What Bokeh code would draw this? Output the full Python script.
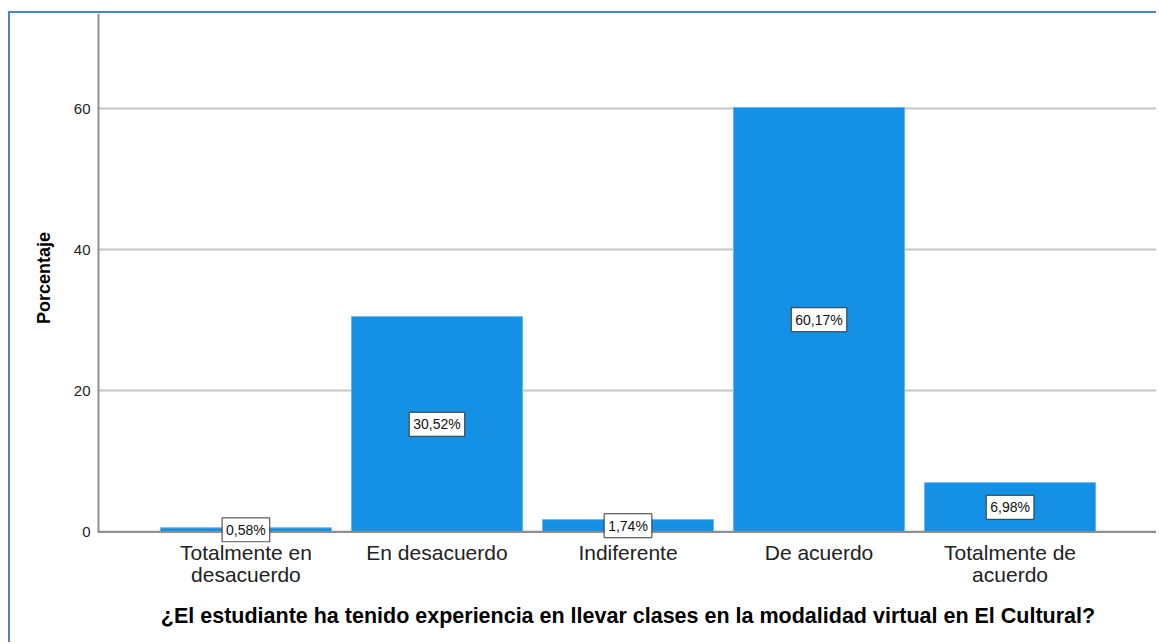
from bokeh.plotting import figure
from bokeh.models import ColumnDataSource, Label, FixedTicker, Range1d, Span
from bokeh.embed import file_html
from bokeh.resources import INLINE

categories = ["Totalmente en\ndesacuerdo", "En desacuerdo", "Indiferente",
              "De acuerdo", "Totalmente de\nacuerdo"]
percent = [0.58, 30.52, 1.74, 60.17, 6.98]
pct_labels = ["0,58%", "30,52%", "1,74%", "60,17%", "6,98%"]
y_ticks = [0, 20, 40, 60]
x_title = "¿El estudiante ha tenido experiencia en llevar clases en la modalidad virtual en El Cultural?"
y_title = "Porcentaje"

FONT = "Liberation Sans"
AXIS_COLOR = "#8f8f8f"
xs = list(range(len(categories)))
src = ColumnDataSource(dict(x=xs, top=percent))

xr = Range1d(-0.777, len(categories) - 1 + 0.777)
yr = Range1d(-1.5, 73.5)

p = figure(width=1148, height=631, x_range=xr, y_range=yr,
           output_backend="svg", toolbar_location=None,
           min_border_left=87, min_border_right=0, min_border_top=0,
           min_border_bottom=102)
p.outline_line_color = None
p.styles = {"border-left": "2px solid #4f84c4", "border-top": "2px solid #4f84c4",
            "margin-top": "11px", "margin-left": "8px"}

# grid
p.xgrid.grid_line_color = None
p.ygrid.ticker = FixedTicker(ticks=y_ticks)
p.ygrid.grid_line_color = "#c6c6c6"
p.ygrid.grid_line_width = 2

p.vbar(x="x", top="top", width=0.895, source=src,
       fill_color="#1490e4", line_color="#62b6ee", line_width=1)

# axis lines (x axis line at value 0, y axis line from 0 up)
p.add_layout(Span(location=0, dimension="width", line_color=AXIS_COLOR, line_width=2))
p.segment(x0=[xr.start], y0=[0], x1=[xr.start], y1=[yr.end],
          line_color=AXIS_COLOR, line_width=4)

for xi, v, lab in zip(xs, percent, pct_labels):
    p.add_layout(Label(x=xi, y=v / 2, text=lab, text_align="center",
                       text_baseline="middle", text_font=FONT,
                       text_font_size="14px", text_color="#111111",
                       padding=4,
                       background_fill_color="white",
                       border_line_color="#333333", border_line_width=1))

# axes
p.xaxis.ticker = FixedTicker(ticks=xs)
p.xaxis.major_label_overrides = {i: c for i, c in zip(xs, categories)}
p.xaxis.major_label_text_font = FONT
p.xaxis.major_label_text_font_size = "21px"
p.xaxis.major_label_text_line_height = 0.96
p.xaxis.major_label_text_color = "#222222"
p.xaxis.major_label_standoff = -2
p.xaxis.axis_label = x_title
p.xaxis.axis_label_text_font = FONT
p.xaxis.axis_label_text_font_size = "21.5px"
p.xaxis.axis_label_text_font_style = "bold"
p.xaxis.axis_label_text_color = "black"
p.xaxis.axis_label_standoff = 15

p.yaxis.ticker = FixedTicker(ticks=y_ticks)
p.yaxis.major_label_text_font = FONT
p.yaxis.major_label_text_font_size = "15px"
p.yaxis.major_label_text_color = "#222222"
p.yaxis.major_label_standoff = 7
p.yaxis.axis_label = y_title
p.yaxis.axis_label_text_font = FONT
p.yaxis.axis_label_text_font_size = "18px"
p.yaxis.axis_label_text_font_style = "bold"
p.yaxis.axis_label_text_color = "black"
p.yaxis.axis_label_standoff = 17

for ax in (p.xaxis, p.yaxis):
    ax.major_tick_line_color = None
    ax.minor_tick_line_color = None
    ax.major_tick_out = 0
    ax.major_tick_in = 0
    ax.minor_tick_out = 0
    ax.axis_line_color = None

open("out.html", "w").write(file_html(p, INLINE))
